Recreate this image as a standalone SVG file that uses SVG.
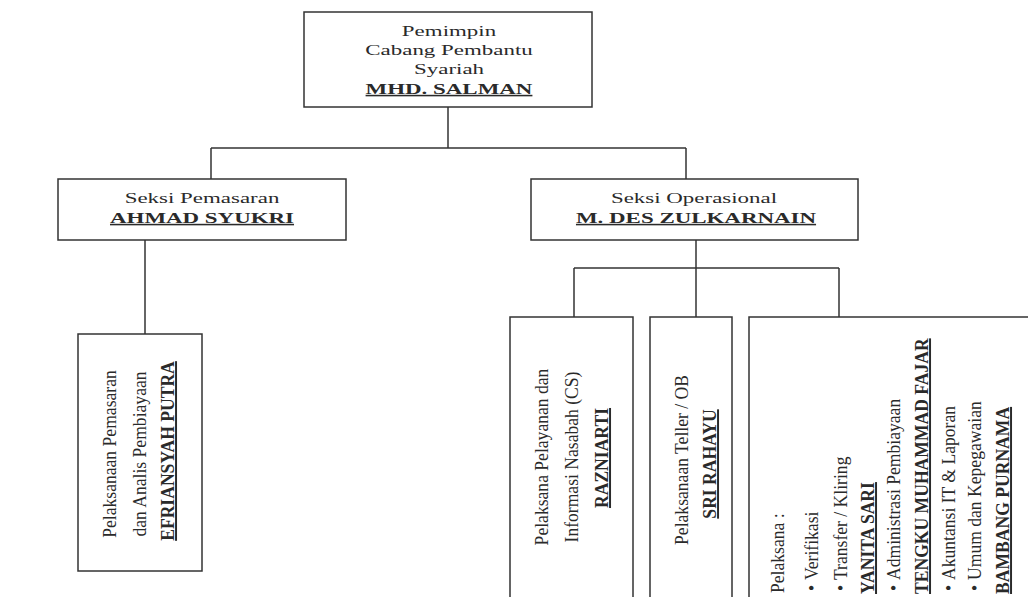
<svg xmlns="http://www.w3.org/2000/svg" width="1028" height="597" viewBox="0 0 1028 597">
<style>
.box{fill:#fff;stroke:#333;stroke-width:1.5}
.ln{stroke:#333;stroke-width:1.5;fill:none}
.h{font-family:"Liberation Serif","Times New Roman",serif;font-size:15.5px;fill:#2a2a2a;text-anchor:middle}
.b{font-weight:bold;text-decoration:underline}
.v{font-family:"Liberation Serif","Times New Roman",serif;font-size:17.6px;fill:#2a2a2a}
.vm{text-anchor:middle}
</style>
<rect width="1028" height="597" fill="#fff"/>
<g id="connectors">
<line class="ln" x1="448" y1="107" x2="448" y2="148"/>
<line class="ln" x1="211" y1="148" x2="686" y2="148"/>
<line class="ln" x1="211" y1="148" x2="211" y2="179"/>
<line class="ln" x1="686" y1="148" x2="686" y2="179"/>
<line class="ln" x1="145" y1="240" x2="145" y2="334"/>
<line class="ln" x1="696" y1="240" x2="696" y2="268"/>
<line class="ln" x1="574" y1="268" x2="839" y2="268"/>
<line class="ln" x1="574" y1="268" x2="574" y2="317"/>
<line class="ln" x1="696" y1="268" x2="696" y2="317"/>
<line class="ln" x1="839" y1="268" x2="839" y2="317"/>
</g>
<g id="pimpinan">
<rect class="box" x="304" y="12" width="288" height="95"/>
<text class="h" transform="translate(449,36) scale(1.48,1)">Pemimpin</text>
<text class="h" transform="translate(449,55) scale(1.48,1)">Cabang Pembantu</text>
<text class="h" transform="translate(449,74) scale(1.48,1)">Syariah</text>
<text class="h b" transform="translate(449,94) scale(1.48,1)">MHD. SALMAN</text>
</g>
<g id="pemasaran">
<rect class="box" x="58" y="179" width="288" height="61"/>
<text class="h" transform="translate(202,203) scale(1.48,1)">Seksi Pemasaran</text>
<text class="h b" transform="translate(202,223) scale(1.48,1)">AHMAD SYUKRI</text>
</g>
<g id="operasional">
<rect class="box" x="531" y="179" width="327" height="61"/>
<text class="h" transform="translate(694,203) scale(1.48,1)">Seksi Operasional</text>
<text class="h b" transform="translate(696,223) scale(1.48,1)">M. DES ZULKARNAIN</text>
</g>
<g id="pelaksana-pemasaran">
<rect class="box" x="78" y="334" width="124" height="237"/>
<text class="v vm" transform="translate(116,454) rotate(-90) scale(1,1.12)">Pelaksanaan Pemasaran</text>
<text class="v vm" transform="translate(146,454) rotate(-90) scale(1,1.12)">dan Analis Pembiayaan</text>
<text class="v vm b" transform="translate(174,451) rotate(-90) scale(1,1.12)">EFRIANSYAH PUTRA</text>
</g>
<g id="pelaksana-cs">
<rect class="box" x="510" y="317" width="123" height="290"/>
<text class="v vm" transform="translate(548,457) rotate(-90) scale(1,1.12)">Pelaksana Pelayanan dan</text>
<text class="v vm" transform="translate(578,457) rotate(-90) scale(1,1.12)">Informasi Nasabah (CS)</text>
<text class="v vm b" transform="translate(608,458) rotate(-90) scale(1,1.12)">RAZNIARTI</text>
</g>
<g id="pelaksana-teller">
<rect class="box" x="650" y="317" width="82" height="290"/>
<text class="v vm" transform="translate(688,460) rotate(-90) scale(1,1.12)">Pelaksanaan Teller / OB</text>
<text class="v vm b" transform="translate(716,464) rotate(-90) scale(1,1.12)">SRI RAHAYU</text>
</g>
<g id="pelaksana-lain">
<rect class="box" x="749" y="317" width="290" height="290"/>
<text class="v" transform="translate(784,593) rotate(-90) scale(1,1.12)">Pelaksana :</text>
<text class="v" transform="translate(818,591) rotate(-90) scale(1,1.12)">•</text>
<text class="v" transform="translate(818,580) rotate(-90) scale(1,1.12)">Verifikasi</text>
<text class="v" transform="translate(847,591) rotate(-90) scale(1,1.12)">•</text>
<text class="v" transform="translate(847,580) rotate(-90) scale(1,1.12)">Transfer / Kliring</text>
<text class="v b" transform="translate(874,594) rotate(-90) scale(1,1.12)">YANITA SARI</text>
<text class="v" transform="translate(900,591) rotate(-90) scale(1,1.12)">•</text>
<text class="v" transform="translate(900,580) rotate(-90) scale(1,1.12)">Administrasi Pembiayaan</text>
<text class="v b" transform="translate(928,594) rotate(-90) scale(1,1.12)">TENGKU MUHAMMAD FAJAR</text>
<text class="v" transform="translate(955,591) rotate(-90) scale(1,1.12)">•</text>
<text class="v" transform="translate(955,580) rotate(-90) scale(1,1.12)">Akuntansi IT &amp; Laporan</text>
<text class="v" transform="translate(981,591) rotate(-90) scale(1,1.12)">•</text>
<text class="v" transform="translate(981,580) rotate(-90) scale(1,1.12)">Umum dan Kepegawaian</text>
<text class="v b" transform="translate(1009,594) rotate(-90) scale(1,1.12)">BAMBANG PURNAMA</text>
</g>
</svg>
